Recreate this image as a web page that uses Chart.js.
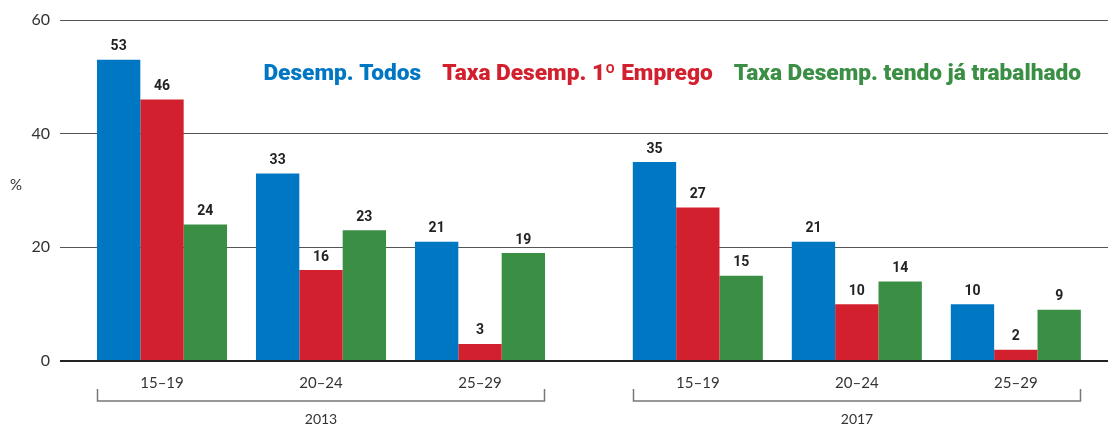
<!DOCTYPE html>
<html>
<head>
<meta charset="utf-8">
<script src="https://cdn.jsdelivr.net/npm/chart.js"></script>
<style>
  html, body { margin: 0; padding: 0; background: #fff; }
  #wrap { width: 1108px; height: 425px; position: relative; }
</style>
</head>
<body>
<div id="wrap"><canvas id="chart" width="1108" height="425"></canvas></div>
<script>
// age groups and years
const ageGroups = ["15–19", "20–24", "25–29"]
const years = ["2013", "2017"]

// values per age group, 2013 first then 2017
const desempTodos = [53, 33, 21, 35, 21, 10]
const primeiroEmprego = [46, 16, 3, 27, 10, 2]
const jaTrabalhado = [24, 23, 19, 15, 14, 9]

const seriesNames = ["Desemp. Todos", "Taxa Desemp. 1º Emprego", "Taxa Desemp. tendo já trabalhado"]
const yTicks = [0, 20, 40, 60]

const colors = ["#0077c3", "#d3202e", "#3b8f45"]
const yearStep = 3.37 // distance between first groups of each year, in group units

// group index -> position on the x axis
const positions = []
years.forEach((y, j) => {
  ageGroups.forEach((g, i) => positions.push(i + j * yearStep))
})

function toPoints(values) {
  return values.map((v, i) => ({ x: positions[i], y: v }))
}

const valueLabels = {
  id: "valueLabels",
  afterDatasetsDraw(chart) {
    const ctx = chart.ctx
    ctx.save()
    ctx.font = "bold 14px Roboto"
    ctx.fillStyle = "#222"
    ctx.textAlign = "center"
    ctx.textBaseline = "middle"
    chart.data.datasets.forEach((ds, d) => {
      chart.getDatasetMeta(d).data.forEach((bar, i) => {
        ctx.fillText(ds.data[i].y, bar.x, bar.y - 13)
      })
    })
    ctx.restore()
  },
}

const extras = {
  id: "extras",
  afterDraw(chart) {
    const ctx = chart.ctx
    ctx.save()

    // legend as coloured text, laid out right to left
    ctx.font = "900 22.7px Roboto"
    ctx.textBaseline = "middle"
    ctx.textAlign = "left"
    let right = 1081
    for (let s = seriesNames.length - 1; s >= 0; s--) {
      const w = ctx.measureText(seriesNames[s]).width
      ctx.fillStyle = colors[s]
      ctx.fillText(seriesNames[s], right - w, 74)
      right -= w + 21
    }

    // unit label
    ctx.font = "15px Lato"
    ctx.fillStyle = "#333"
    ctx.textAlign = "left"
    ctx.fillText("%", 10, 185)

    // year brackets
    const first = chart.getDatasetMeta(0).data
    const last = chart.getDatasetMeta(chart.data.datasets.length - 1).data
    ctx.strokeStyle = "#777"
    ctx.lineWidth = 1.5
    years.forEach((y, j) => {
      const a = first[j * ageGroups.length]
      const b = last[j * ageGroups.length + ageGroups.length - 1]
      const x0 = Math.round(a.x - a.width / 2) + 0.5
      const x1 = Math.round(b.x + b.width / 2) - 0.5
      ctx.beginPath()
      ctx.moveTo(x0, 389)
      ctx.lineTo(x0, 401)
      ctx.lineTo(x1, 401)
      ctx.lineTo(x1, 389)
      ctx.stroke()
      ctx.fillStyle = "#333"
      ctx.textAlign = "center"
      ctx.font = "14px Lato"
      ctx.fillText(y, (x0 + x1) / 2, 419)
    })
    ctx.restore()
  },
}

new Chart(document.getElementById("chart"), {
  type: "bar",
  data: {
    datasets: [
      { label: seriesNames[0], data: toPoints(desempTodos), backgroundColor: colors[0] },
      { label: seriesNames[1], data: toPoints(primeiroEmprego), backgroundColor: colors[1] },
      { label: seriesNames[2], data: toPoints(jaTrabalhado), backgroundColor: colors[2] },
    ],
  },
  options: {
    responsive: false,
    animation: false,
    layout: { padding: { top: 20, right: 0, left: 0, bottom: 0 } },
    datasets: { bar: { categoryPercentage: 0.818, barPercentage: 1.0, borderWidth: 0 } },
    plugins: { legend: { display: false }, tooltip: { enabled: false } },
    scales: {
      x: {
        type: "linear",
        min: -0.6415,
        max: 5.9497,
        offset: false,
        grid: { display: false, drawTicks: false },
        border: { display: false },
        afterBuildTicks(scale) {
          scale.ticks = positions.map((v) => ({ value: v }))
        },
        afterFit(scale) {
          scale.height = 64
        },
        ticks: {
          autoSkip: false,
          maxRotation: 0,
          padding: 13,
          color: "#333",
          font: { family: "Lato", size: 15 },
          callback: (v) => {
            const i = positions.findIndex((p) => Math.abs(p - v) < 1e-6)
            return i >= 0 ? ageGroups[i % ageGroups.length] : ""
          },
        },
      },
      y: {
        min: 0,
        max: 60,
        afterBuildTicks(scale) {
          scale.ticks = yTicks.map((v) => ({ value: v }))
        },
        afterFit(scale) {
          scale.width = 60
        },
        border: { display: false },
        grid: {
          drawTicks: false,
          color: (c) => (c.tick && c.tick.value === 0 ? "#222" : "#555"),
          lineWidth: (c) => (c.tick && c.tick.value === 0 ? 2 : 1),
        },
        ticks: {
          padding: 10,
          color: "#333",
          font: { family: "Lato", size: 16 },
        },
      },
    },
  },
  plugins: [valueLabels, extras],
})
</script>
</body>
</html>
